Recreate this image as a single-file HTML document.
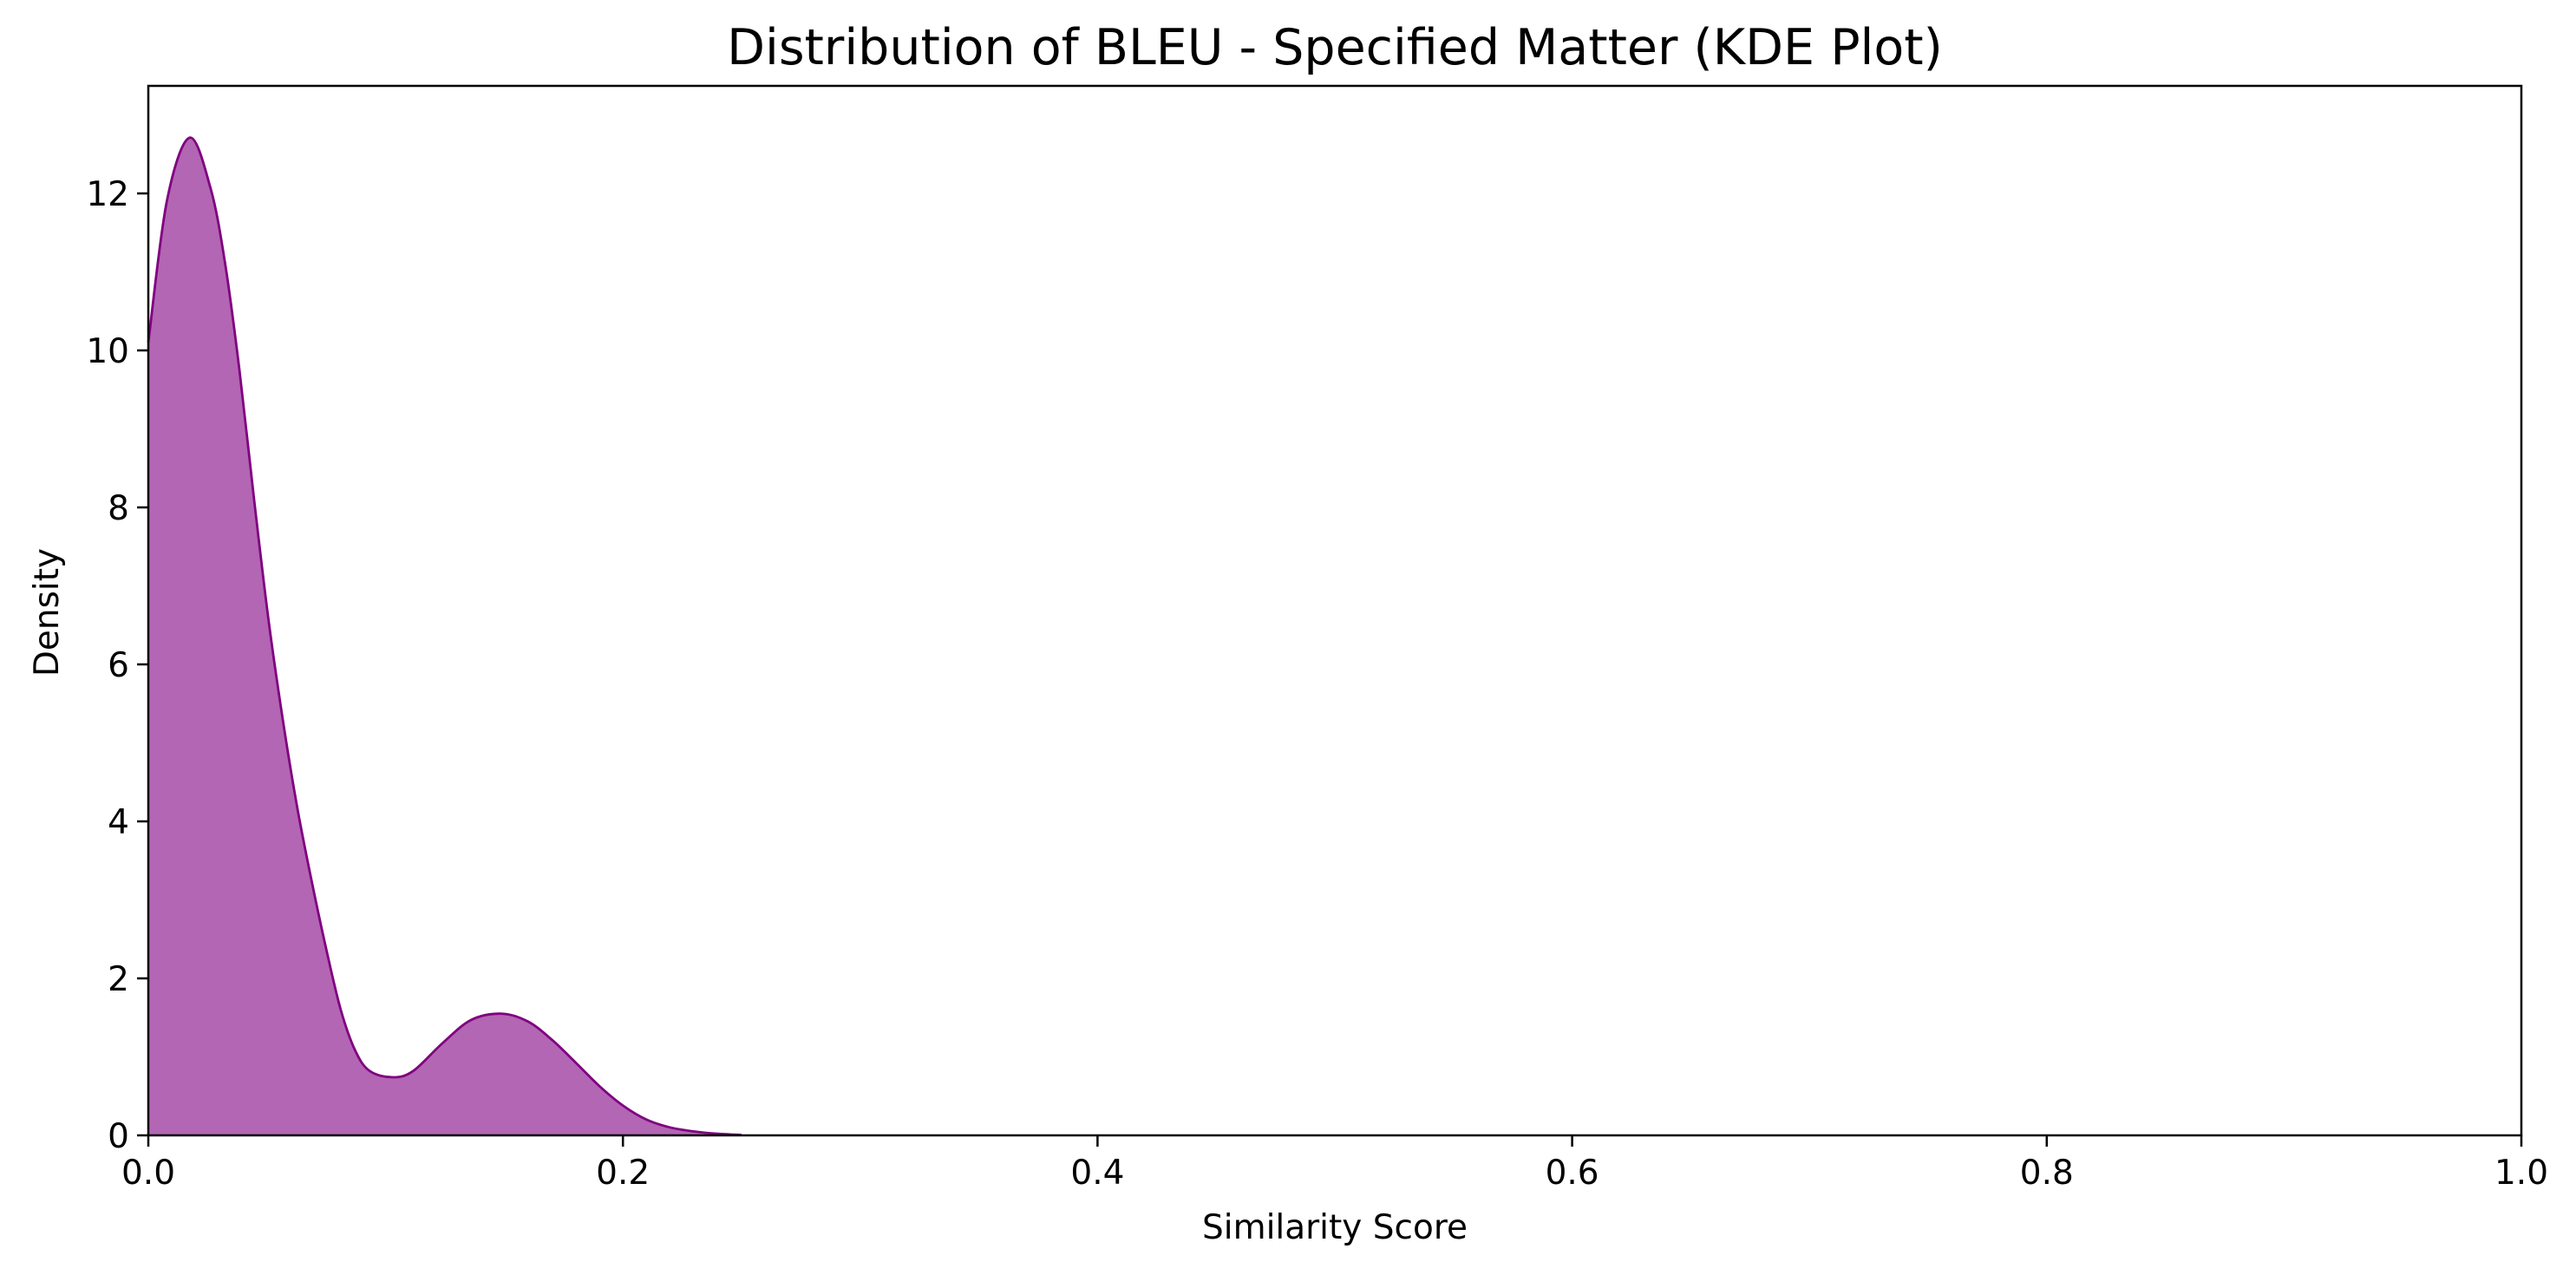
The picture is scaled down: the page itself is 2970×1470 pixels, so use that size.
<!DOCTYPE html>
<html><head><meta charset="utf-8"><style>
html,body{margin:0;padding:0;background:#fff;}
svg{display:block;font-family:"DejaVu Sans","Liberation Sans",sans-serif;}
</style></head><body>
<svg id="chart" width="2970" height="1470" viewBox="0 0 2970 1470" xmlns="http://www.w3.org/2000/svg">
<rect width="2970" height="1470" fill="#fff"/>
<text x="1539" y="74" font-size="57" text-anchor="middle" fill="#000">Distribution of BLEU - Specified Matter (KDE Plot)</text>
<text x="1539" y="1428" font-size="39" text-anchor="middle" fill="#000">Similarity Score</text>
<text x="0" y="0" font-size="39" text-anchor="middle" fill="#000" transform="translate(67,706) rotate(-90)">Density</text>
<g id="plot"></g>
</svg>
<script>
const xValues = [0,0.0078,0.0174,0.0262,0.0323,0.0384,0.0445,0.0506,0.0567,0.0628,0.0689,0.075,0.0811,0.0872,0.0933,0.103,0.1116,0.1238,0.136,0.149,0.16,0.17,0.18,0.19,0.2,0.21,0.22,0.23,0.24,0.25];
const densityValues = [10.1,11.9,12.71,12.07,11.12,9.75,8.12,6.58,5.29,4.17,3.23,2.37,1.6,1.08,0.82,0.74,0.82,1.17,1.47,1.55,1.45,1.22,0.93,0.63,0.38,0.2,0.1,0.05,0.02,0.005];
const xTicks = [0,0.2,0.4,0.6,0.8,1.0];
const xTickLabels = ["0.0","0.2","0.4","0.6","0.8","1.0"];
const yTicks = [0,2,4,6,8,10,12];
const yTickLabels = ["0","2","4","6","8","10","12"];

const L=171, R=2907, T=99, B=1309;
const yMax = (B-T)/90.5;
function sx(v){return L+(v-0)/(1-0)*(R-L);}
function sy(v){return B-v/yMax*(B-T);}
const NS="http://www.w3.org/2000/svg";
const g=document.getElementById('plot');
function mk(tag,attrs){const e=document.createElementNS(NS,tag);for(const k in attrs)e.setAttribute(k,attrs[k]);return e;}

const pts=xValues.map((x,i)=>[sx(x),sy(densityValues[i])]);
let d="M"+pts[0][0]+","+pts[0][1];
for(let i=0;i<pts.length-1;i++){
  const p0=pts[Math.max(0,i-1)],p1=pts[i],p2=pts[i+1],p3=pts[Math.min(pts.length-1,i+2)];
  const c1=[p1[0]+(p2[0]-p0[0])/6,p1[1]+(p2[1]-p0[1])/6];
  const c2=[p2[0]-(p3[0]-p1[0])/6,p2[1]-(p3[1]-p1[1])/6];
  d+=" C"+c1[0]+","+c1[1]+" "+c2[0]+","+c2[1]+" "+p2[0]+","+p2[1];
}
const area=mk('path',{d:d+" L"+pts[pts.length-1][0]+","+sy(0)+" L"+pts[0][0]+","+sy(0)+" Z",fill:"#800080","fill-opacity":"0.6",stroke:"none"});


g.appendChild(area);
const line=mk('path',{d:d,fill:"none",stroke:"#800080","stroke-width":"2.8"});


g.appendChild(line);

const frame=mk('rect',{x:L,y:T,width:R-L,height:B-T,fill:"none",stroke:"#000","stroke-width":"2.5"});


g.appendChild(frame);

xTicks.forEach((v,i)=>{
  const x=sx(v);
  const t=mk('line',{x1:x,x2:x,y1:B,y2:B+13,stroke:"#000","stroke-width":"2.5"});
  
  
  g.appendChild(t);
  const tx=mk('text',{x:x,y:B+56,"font-size":"39","text-anchor":"middle",fill:"#000"});
  tx.textContent=xTickLabels[i];
  
  
  g.appendChild(tx);
});
yTicks.forEach((v,i)=>{
  const y=sy(v);
  const t=mk('line',{x1:L-13,x2:L,y1:y,y2:y,stroke:"#000","stroke-width":"2.5"});
  
  
  g.appendChild(t);
  const tx=mk('text',{x:L-22,y:y+14,"font-size":"39","text-anchor":"end",fill:"#000"});
  tx.textContent=yTickLabels[i];
  
  
  g.appendChild(tx);
});
</script>
</body></html>
